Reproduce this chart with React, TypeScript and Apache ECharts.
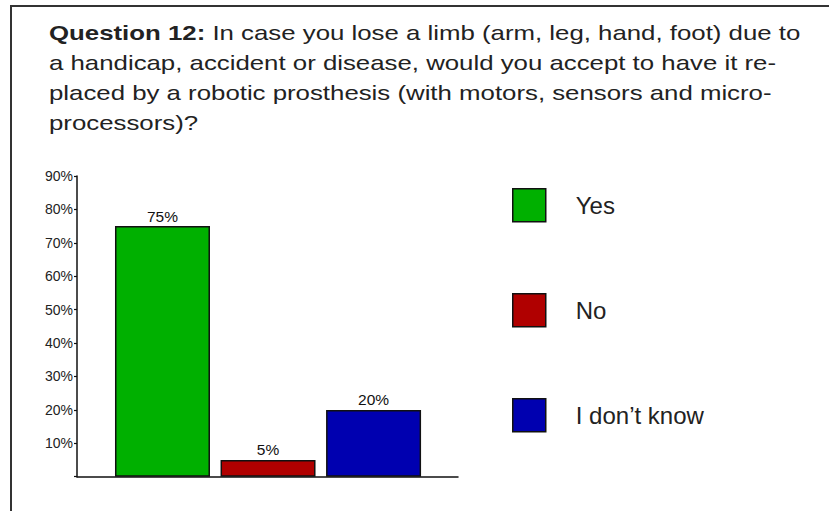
import React, { useEffect, useRef } from "react";
import * as echarts from "echarts";

const categories = ["Yes", "No", "I don’t know"];
const values = [75, 5, 20];
const colors = ["#00B000", "#B00000", "#0000B0"];
const yTicks = [0, 10, 20, 30, 40, 50, 60, 70, 80, 90];
const titleBold = "Question 12:";
const titleLines = [
  " In case you lose a limb (arm, leg, hand, foot) due to",
  "a handicap, accident or disease, would you accept to have it re-",
  "placed by a robotic prosthesis (with motors, sensors and micro-",
  "processors)?",
];

const FONT = "'Liberation Sans', Arial, Helvetica, sans-serif";

export default function App() {
  const ref = useRef<HTMLDivElement>(null);
  useEffect(() => {
    if (!ref.current) return;
    const chart = echarts.init(ref.current, null, { renderer: "svg" });
    const titleText =
      "{b|" + titleBold + "}{r|" + titleLines[0] + "}\n" +
      titleLines.slice(1).map((l) => "{r|" + l + "}").join("\n");
    const series = categories.map((name, i) => ({
      name,
      type: "bar",
      stack: "all",
      barWidth: 95,
      data: [[i + 1, values[i]]],
      itemStyle: { color: colors[i], borderColor: "#111", borderWidth: 1.5 },
      label: {
        show: true,
        position: "top",
        distance: 2,
        fontFamily: FONT,
        fontSize: 15.5,
        color: "#111",
        formatter: (p: any) => p.value[1] + "%",
      },
    }));
    chart.setOption({
      animation: false,
      backgroundColor: "#fff",
      graphic: [
        {
          type: "rect",
          shape: { x: 11, y: 6, width: 1000, height: 800 },
          style: { fill: "none", stroke: "#333", lineWidth: 2 },
          silent: true,
        },
        {
          type: "text",
          x: 49,
          y: 18,
          scaleX: 1.29,
          style: {
            text: titleText,
            fontFamily: FONT,
            fontSize: 20,
            lineHeight: 30,
            fill: "#222",
            verticalAlign: "top",
            rich: {
              b: { fontWeight: "bold", fontSize: 20, lineHeight: 30, fontFamily: FONT, fill: "#222" },
              r: { fontSize: 20, lineHeight: 30, fontFamily: FONT, fill: "#222" },
            },
          },
        },
      ],
      legend: {
        orient: "vertical",
        left: 507,
        top: 183,
        itemWidth: 33,
        itemHeight: 33,
        itemGap: 70.5,
        icon: "rect",
        data: categories,
        itemStyle: { borderColor: "#111", borderWidth: 1.5 },
        textStyle: {
          fontFamily: FONT,
          fontSize: 24,
          color: "#222",
          padding: [0, 0, 0, 25],
        },
        selectedMode: false,
      },
      grid: { left: 77, right: 371, top: 176, bottom: 34.3, containLabel: false },
      xAxis: {
        type: "value",
        min: 0.19,
        max: 3.8,
        axisLine: { show: true, lineStyle: { color: "#111", width: 1.5 } },
        axisTick: { show: false },
        axisLabel: { show: false },
        splitLine: { show: false },
      },
      yAxis: {
        type: "value",
        min: yTicks[0],
        max: yTicks[yTicks.length - 1],
        interval: 10,
        axisLine: { show: true, lineStyle: { color: "#111", width: 1.5 } },
        axisTick: { show: true, length: 3, lineStyle: { color: "#111", width: 1.2 } },
        axisLabel: {
          margin: 4,
          fontFamily: FONT,
          fontSize: 14,
          color: "#222",
          formatter: (v: number) => (v === 0 ? "" : v + "%"),
        },
        splitLine: { show: false },
      },
      series,
    });
    return () => chart.dispose();
  }, []);
  return (
    <div
      ref={ref}
      style={{ position: "fixed", left: 0, top: 0, width: 829, height: 511 }}
    />
  );
}
